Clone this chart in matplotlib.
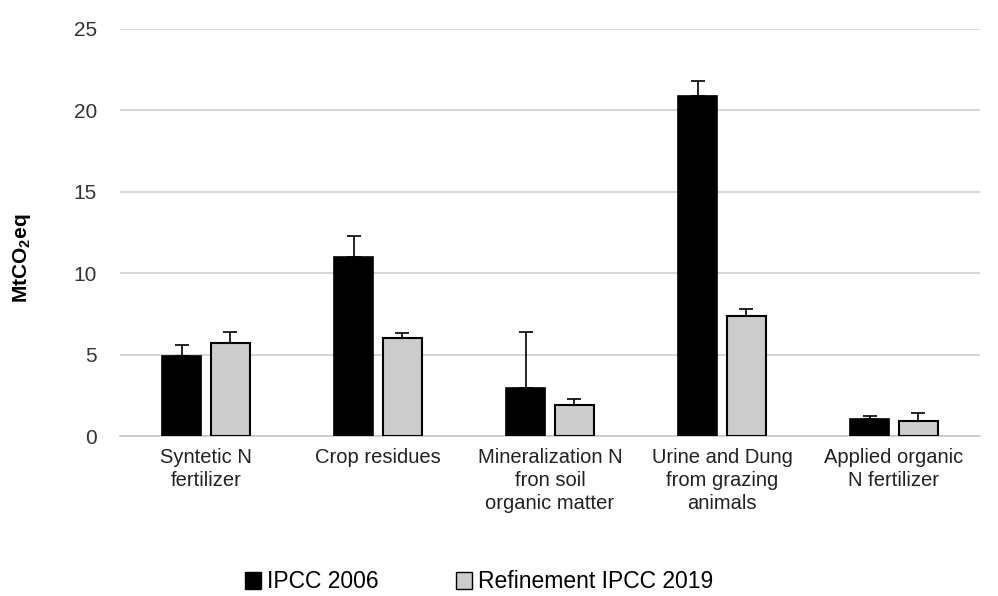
import numpy as np
import matplotlib
matplotlib.use("Agg")
import matplotlib.pyplot as plt
from matplotlib.patches import Patch

plt.rcParams['font.family'] = ['Liberation Sans', 'DejaVu Sans']

categories = ["Syntetic N\nfertilizer", "Crop residues",
              "Mineralization N\nfron soil\norganic matter",
              "Urine and Dung\nfrom grazing\nanimals",
              "Applied organic\nN fertilizer"]
ipcc2006 = [4.9, 11.0, 2.95, 20.9, 1.05]
ipcc2006_err = [0.7, 1.3, 3.45, 0.9, 0.15]
ipcc2019 = [5.7, 6.0, 1.9, 7.4, 0.9]
ipcc2019_err = [0.7, 0.3, 0.4, 0.4, 0.5]
yticks = [0, 5, 10, 15, 20, 25]

fig = plt.figure(figsize=(9.98, 5.96), dpi=100)
ax = fig.add_axes([120/998, 1-436/596, 860/998, (436-29)/596])

x = np.arange(len(categories))
w = 0.225
off = 0.142
zeros = [0]*len(x)
ax.bar(x - off, ipcc2006, w, color='black', edgecolor='black', linewidth=1.2,
       yerr=[zeros, ipcc2006_err], capsize=5,
       error_kw=dict(ecolor='black', elinewidth=1.2, capthick=1.2), zorder=3)
ax.bar(x + off, ipcc2019, w, color='#cccccc', edgecolor='black', linewidth=1.5,
       yerr=[zeros, ipcc2019_err], capsize=5,
       error_kw=dict(ecolor='black', elinewidth=1.2, capthick=1.2), zorder=3)

ax.set_xlim(-0.5, len(x) - 0.5)
ax.set_ylim(0, 25)
ax.set_yticks(yticks)
ax.set_yticklabels([str(t) for t in yticks], fontsize=15, color='#333333')
ax.yaxis.grid(True, color='#d0d0d0', linewidth=1.2, zorder=0)
ax.set_axisbelow(True)
ax.set_xticks(x)
ax.set_xticklabels(categories, fontsize=14.5, color='#222222', linespacing=1.26)
ax.tick_params(axis='both', length=0)
ax.tick_params(axis='x', pad=8.5)
ax.tick_params(axis='y', pad=16.5)
for s in ['top', 'right', 'left']:
    ax.spines[s].set_visible(False)
ax.spines['bottom'].set_color('#c8c8c8')
ax.spines['bottom'].set_linewidth(1.2)

fig.text(22/998, 1-258/596, r'MtCO$_\mathregular{2}$eq', fontsize=15,
         fontweight='bold', rotation=90, ha='center', va='center')

handles = [Patch(facecolor='black', edgecolor='black'),
           Patch(facecolor='#cccccc', edgecolor='black')]
fig.legend(handles, ['IPCC 2006', 'Refinement IPCC 2019'], loc='center left',
           bbox_to_anchor=(245/998, 1-582/596), ncol=2, frameon=False, fontsize=16.5,
           handlelength=0.7, handleheight=0.7, handletextpad=0.25, columnspacing=3.4,
           borderaxespad=0, borderpad=0)

fig.savefig('out.png', dpi=100)
